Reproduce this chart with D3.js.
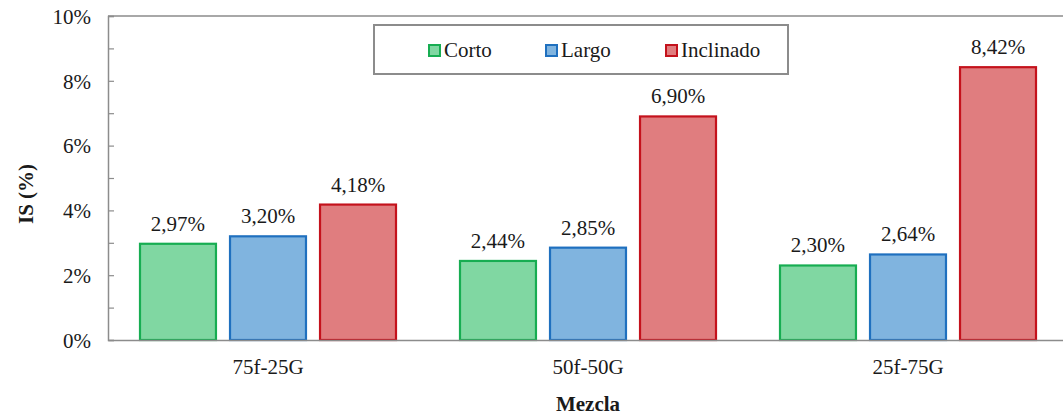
<!DOCTYPE html>
<html>
<head>
<meta charset="utf-8">
<script src="https://cdn.jsdelivr.net/npm/d3@7"></script>
<style>
  html, body { margin: 0; padding: 0; background: #fff; }
  svg { display: block; }
  svg text { font-family: "Liberation Serif", "Times New Roman", serif; }
</style>
</head>
<body>
<svg id="chart" width="1063" height="415"></svg>
<script>
// Mixtures on the x axis
const mezclas = ["75f-25G", "50f-50G", "25f-75G"];
// Series (IS, in %)
const series = ["Corto", "Largo", "Inclinado"];
const corto = [2.97, 2.44, 2.30];
const largo = [3.20, 2.85, 2.64];
const inclinado = [4.18, 6.90, 8.42];
const yTicks = [0, 2, 4, 6, 8, 10];

const fills = { Corto: "#80d7a2", Largo: "#80b4df", Inclinado: "#e07d7f" };
const strokes = { Corto: "#17ad52", Largo: "#1f70bf", Inclinado: "#c4121c" };

const values = { Corto: corto, Largo: largo, Inclinado: inclinado };
const rows = mezclas.map((m, i) => ({
  mezcla: m,
  items: series.map(s => ({ serie: s, value: values[s][i] }))
}));

const FS = 21;
const svg = d3.select("#chart");
const plot = { left: 108, top: 16, right: 1068, bottom: 340 };

const x0 = d3.scaleBand().domain(mezclas).range([plot.left, plot.right]).padding(0);
const groupW = x0.bandwidth();
const x1 = d3.scaleBand().domain(series)
  .range([groupW * 0.1, groupW * 0.9]).paddingInner(0.156).paddingOuter(0);
const y = d3.scaleLinear().domain([0, 10]).range([plot.bottom, plot.top]);

const fmt = v => d3.format(".2f")(v).replace(".", ",") + "%";

// Plot frame (top edge and right edge)
svg.append("path")
  .attr("d", `M${plot.left},${plot.top}H${plot.right}V${plot.bottom}`)
  .attr("fill", "none").attr("stroke", "#8c8c8c").attr("stroke-width", 1.5);

// Bars
const groups = svg.selectAll("g.grp").data(rows).join("g")
  .attr("class", "grp")
  .attr("transform", d => `translate(${x0(d.mezcla)},0)`);

groups.selectAll("rect").data(d => d.items).join("rect")
  .attr("x", d => x1(d.serie))
  .attr("y", d => y(d.value))
  .attr("width", x1.bandwidth())
  .attr("height", d => y(0) - y(d.value))
  .attr("fill", d => fills[d.serie])
  .attr("stroke", d => strokes[d.serie])
  .attr("stroke-width", 2.2);

groups.selectAll("text").data(d => d.items).join("text")
  .attr("x", d => x1(d.serie) + x1.bandwidth() / 2)
  .attr("y", d => y(d.value) - 13)
  .attr("text-anchor", "middle")
  .attr("font-size", FS)
  .attr("fill", "#1a1a1a")
  .text(d => fmt(d.value));

// Y axis with inward ticks every 1%
const yAxis = d3.axisLeft(y).tickValues(d3.range(0, 11)).tickSize(-6)
  .tickFormat(d => yTicks.includes(d) ? d + "%" : "");
const gy = svg.append("g").attr("transform", `translate(${plot.left},0)`).call(yAxis);
gy.select(".domain").attr("stroke", "#8c8c8c").attr("stroke-width", 1.5);
gy.selectAll(".tick line").attr("stroke", "#8c8c8c").attr("stroke-width", 1.2);
gy.selectAll(".tick text")
  .attr("x", -17).attr("dy", "0.35em")
  .attr("font-size", FS).attr("fill", "#1a1a1a");

// X axis (no ticks)
const xAxis = d3.axisBottom(x0).tickSize(0);
const gx = svg.append("g").attr("transform", `translate(0,${plot.bottom})`).call(xAxis);
gx.select(".domain").attr("stroke", "#8c8c8c").attr("stroke-width", 1.5);
gx.selectAll(".tick text")
  .attr("y", 34).attr("dy", 0)
  .attr("font-size", FS).attr("fill", "#1a1a1a");

// Axis titles
svg.append("text")
  .attr("x", 588).attr("y", 411)
  .attr("text-anchor", "middle").attr("font-size", FS).attr("font-weight", "bold")
  .attr("fill", "#1a1a1a").text("Mezcla");

svg.append("text")
  .attr("transform", "translate(33,194) rotate(-90)")
  .attr("text-anchor", "middle").attr("font-size", FS).attr("font-weight", "bold")
  .attr("fill", "#1a1a1a").text("IS (%)");

// Legend
const legend = svg.append("g");
legend.append("rect")
  .attr("x", 374).attr("y", 25).attr("width", 414).attr("height", 49)
  .attr("fill", "#fff").attr("stroke", "#8c8c8c").attr("stroke-width", 2);

const legendX = { Corto: 429, Largo: 546, Inclinado: 666 };
series.forEach(s => {
  legend.append("rect")
    .attr("x", legendX[s]).attr("y", 45).attr("width", 11).attr("height", 11)
    .attr("fill", fills[s]).attr("stroke", strokes[s]).attr("stroke-width", 2);
  legend.append("text")
    .attr("x", legendX[s] + 15).attr("y", 57)
    .attr("font-size", FS).attr("fill", "#1a1a1a").text(s);
});
</script>
</body>
</html>
